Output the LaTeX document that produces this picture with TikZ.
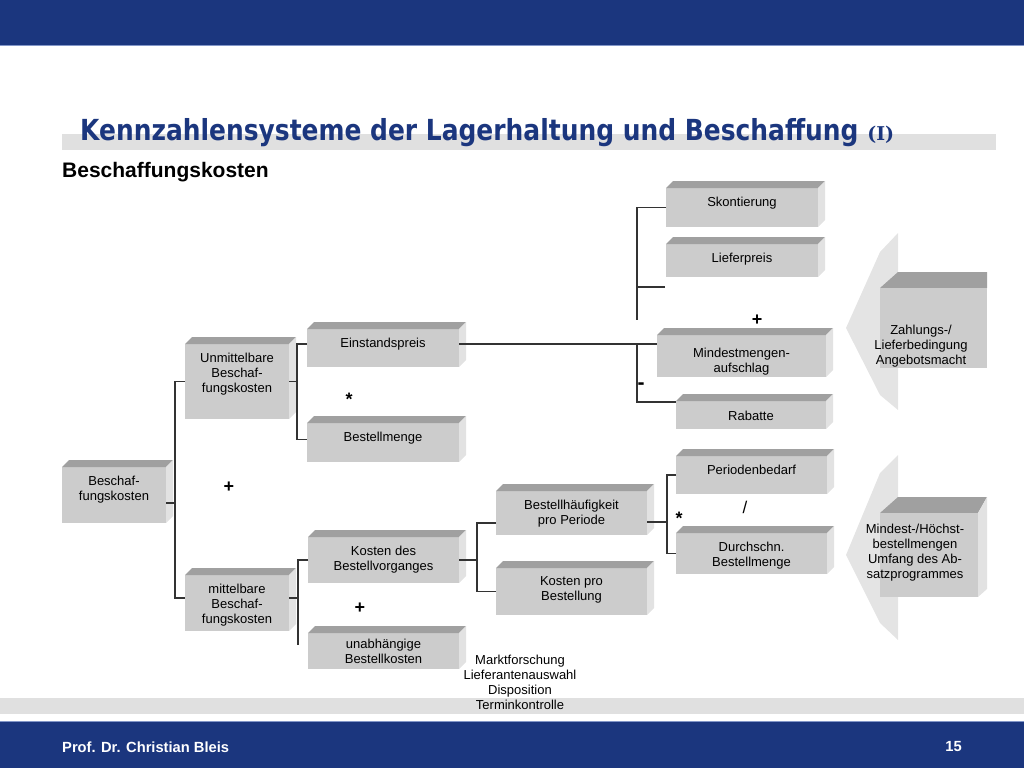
\documentclass[tikz,border=0pt]{standalone}
\usepackage{fontspec}
\setmainfont{Liberation Sans}
\newfontfamily\titelfont{DejaVu Sans}[FakeStretch=0.86]
\newfontfamily\titelserif{DejaVu Serif}
\usetikzlibrary{
  calc % fuer Koordinaten
}

\definecolor{kblau}{RGB}{27,54,126}
\definecolor{kblauhell}{RGB}{130,150,200}
\definecolor{bandgrau}{RGB}{224,224,224}
\definecolor{frontgrau}{RGB}{204,204,204}
\definecolor{topgrau}{RGB}{160,160,160}
\definecolor{seitegrau}{RGB}{226,226,226}
\definecolor{pfeilgrau}{RGB}{228,228,228}

\begin{document}
\begin{tikzpicture}[
      x=1pt, y=-1pt, % 1 Einheit = 1 Pixel, y nach unten
      kbox/.style={fill=frontgrau, inner sep=0pt, outer sep=0pt, anchor=north west},
      ktext/.style={anchor=north, yshift=-8.5pt, inner sep=0pt, align=center,
        font=\fontsize{13pt}{15pt}\selectfont},
      ptext/.style={inner sep=0pt, align=center, font=\fontsize{13pt}{15pt}\selectfont},
      verbindung/.style={line width=1.3pt, black!80},
      op/.style={inner sep=0pt, font=\bfseries\fontsize{18pt}{18pt}\selectfont},
    ]
    \useasboundingbox (0,0) rectangle (1024,768);

    % Kopf- und Fusszeile
    \fill[kblau] (0,0) rectangle (1024,45);
    \draw[kblauhell, line width=1pt] (0,45.5) -- (1024,45.5);
    \fill[bandgrau] (62,134) rectangle (996,150);
    \fill[bandgrau] (0,698) rectangle (1024,714);
    \fill[kblau] (0,722) rectangle (1024,768);
    \draw[kblauhell, line width=1pt] (0,721.5) -- (1024,721.5);

    \node[anchor=base west, inner sep=0pt, text=kblau,
      font=\titelfont\bfseries\fontsize{29pt}{29pt}\selectfont] (titel) at (80,140)
      {Kennzahlensysteme der Lagerhaltung und Beschaffung {\titelserif\bfseries\fontsize{19pt}{19pt}\selectfont (I)}};
    \node[anchor=base west, inner sep=0pt, font=\bfseries\fontsize{21pt}{21pt}\selectfont] (unter) at (62,177)
      {Beschaffungskosten};
    \node[anchor=base west, inner sep=0pt, text=white, font=\bfseries\fontsize{14.7pt}{14.7pt}\selectfont] (autor) at (62,752)
      {Prof. Dr. Christian Bleis};
    \node[anchor=base east, inner sep=0pt, text=white, font=\bfseries\fontsize{14.7pt}{14.7pt}\selectfont] (seite) at (962,751)
      {15};

    % Kaesten
    \node[kbox, minimum width=104pt, minimum height=56pt, label={[ktext]north:Beschaf-\\fungskosten}] (bk) at (62,467) {};
    \node[kbox, minimum width=104pt, minimum height=75pt, label={[ktext]north:Unmittelbare\\Beschaf-\\fungskosten}] (ubk) at (185,344) {};
    \node[kbox, minimum width=104pt, minimum height=56pt, label={[ktext]north:mittelbare\\Beschaf-\\fungskosten}] (mbk) at (185,575) {};
    \node[kbox, minimum width=152pt, minimum height=38pt, label={[ktext]north:Einstandspreis}] (ep) at (307,329) {};
    \node[kbox, minimum width=152pt, minimum height=39pt, label={[ktext]north:Bestellmenge}] (bm) at (307,423) {};
    \node[kbox, minimum width=151pt, minimum height=46pt, label={[ktext]north:Kosten des\\Bestellvorganges}] (kbv) at (308,537) {};
    \node[kbox, minimum width=151pt, minimum height=36pt, label={[ktext,yshift=3pt]north:unabhängige\\Bestellkosten}] (ubko) at (308,633) {};
    \node[kbox, minimum width=151pt, minimum height=44pt, label={[ktext]north:Bestellhäufigkeit\\pro Periode}] (bhp) at (496,491) {};
    \node[kbox, minimum width=151pt, minimum height=47pt, label={[ktext]north:Kosten pro\\Bestellung}] (kpb) at (496,568) {};
    \node[kbox, minimum width=152pt, minimum height=39pt, label={[ktext]north:Skontierung}] (sk) at (666,188) {};
    \node[kbox, minimum width=152pt, minimum height=33pt, label={[ktext]north:Lieferpreis}] (lp) at (666,244) {};
    \node[kbox, minimum width=169pt, minimum height=42pt, label={[ktext,yshift=-4pt]north:Mindestmengen-\\aufschlag}] (mma) at (657,335) {};
    \node[kbox, minimum width=150pt, minimum height=28pt, label={[ktext,yshift=-1pt]north:Rabatte}] (rab) at (676,401) {};
    \node[kbox, minimum width=151pt, minimum height=38pt, label={[ktext]north:Periodenbedarf}] (pb) at (676,456) {};
    \node[kbox, minimum width=151pt, minimum height=41pt, label={[ktext]north:Durchschn.\\Bestellmenge}] (dbm) at (676,533) {};

    % Ober- und Seitenflaechen
    \foreach \n in {bk,ubk,mbk,ep,bm,kbv,ubko,bhp,kpb,sk,lp,mma,rab,pb,dbm} {
      \fill[topgrau] (\n.north west) -- ++(7,-7) -- ([shift={(7,-7)}]\n.north east) -- (\n.north east) -- cycle;
      \fill[seitegrau] (\n.north east) -- ++(7,-7) -- ([shift={(7,-7)}]\n.south east) -- (\n.south east) -- cycle;
    }

    % Verbindungen
    \coordinate (oben) at (637,320);
    \coordinate (stub) at (665,287);
    \coordinate (unten) at (298,645);
    \coordinate (epr) at ([yshift=4pt]ep.east);
    \coordinate (bhpl) at ([yshift=-10pt]bhp.west);

    \draw[verbindung] ([yshift=-8pt]bk.east) -- ++(9,0);
    \draw[verbindung] (ubk.west) -- ++(-10,0) |- ([yshift=5pt]mbk.west);
    \draw[verbindung] (ubk.east) -- ++(9,0);
    \draw[verbindung] ([yshift=4pt]ep.west) -- ++(-10,0) |- ([yshift=3pt]bm.west);
    \draw[verbindung] (sk.west) -| (oben);
    \draw[verbindung] (stub) -- (stub -| oben);
    \draw[verbindung] (epr) -- (epr -| mma.west);
    \draw[verbindung] (epr -| oben) |- ([yshift=-1pt]rab.north west);
    \draw[verbindung] ([yshift=5pt]mbk.east) -- ++(9,0);
    \draw[verbindung] (kbv.west) -| (unten);
    \draw[verbindung] (kbv.east) -- ++(19,0);
    \draw[verbindung] (bhpl) -- ++(-19,0) |- (kpb.west);
    \draw[verbindung] ([yshift=-9pt]bhp.east) -- ++(20,0);
    \draw[verbindung] (pb.west) -- ++(-9,0) |- (dbm.west);

    % Rechenzeichen
    \node[op] (plus1) at (229,487) {+};
    \node[op] (mal1) at (349,399) {*};
    \node[op] (plus2) at (360,608) {+};
    \node[op] (plus3) at (757,320) {+};
    \node[op, font=\bfseries\fontsize{21pt}{21pt}\selectfont] (minus1) at (641,386) {-};
    \node[op] (mal2) at (679,518) {*};
    \node[op, font=\fontsize{17pt}{17pt}\selectfont] (durch) at (745,507) {/};

    % Pfeile rechts
    \fill[pfeilgrau] (846,328) -- (880,252) -- (898,233) -- (898,410) -- (880,395) -- cycle;
    \fill[topgrau] (880,288) -- (898,272) -- (987,272) -- (987,288) -- cycle;
    \fill[frontgrau] (880,288) rectangle (987,368);
    \node[ptext] (zl) at (921,346) {Zahlungs-/\\Lieferbedingung\\Angebotsmacht};

    \fill[pfeilgrau] (846,555) -- (880,473) -- (898,455) -- (898,640) -- (880,623) -- cycle;
    \fill[topgrau] (880,513) -- (898,497) -- (987,497) -- (978,513) -- cycle;
    \fill[seitegrau] (978,513) -- (987,497) -- (987,589) -- (978,597) -- cycle;
    \fill[frontgrau] (880,513) rectangle (978,597);
    \node[ptext] (mh) at (915,553) {Mindest-/Höchst-\\bestellmengen\\Umfang des Ab-\\satzprogrammes};

    \node[ptext] (mf) at (520,682.5) {Marktforschung\\Lieferantenauswahl\\Disposition\\Terminkontrolle};

  \end{tikzpicture}
\end{document}
